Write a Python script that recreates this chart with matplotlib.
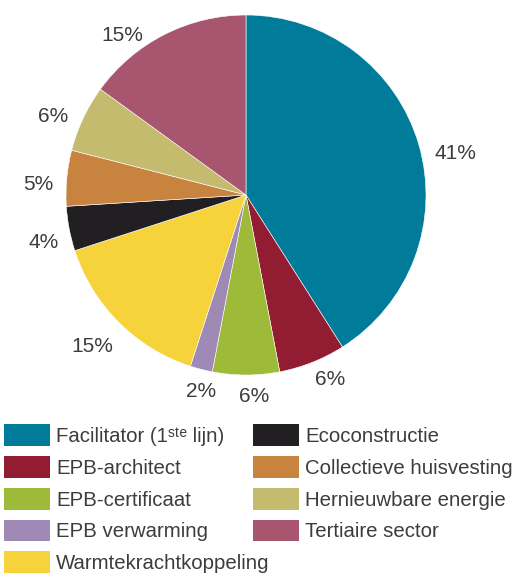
import matplotlib
matplotlib.use("Agg")
import matplotlib.pyplot as plt
import numpy as np

plt.rcParams['font.family'] = ['Liberation Sans', 'DejaVu Sans']

categories = ["Facilitator (1ˢᵗᵉ lijn)", "EPB-architect", "EPB-certificaat",
              "EPB verwarming", "Warmtekrachtkoppeling", "Ecoconstructie",
              "Collectieve huisvesting", "Hernieuwbare energie", "Tertiaire sector"]
values = [41, 6, 6, 2, 15, 4, 5, 6, 15]
pct_labels = ["41%", "6%", "6%", "2%", "15%", "4%", "5%", "6%", "15%"]
colors = ["#007B99", "#921D33", "#9DBB38", "#9E8AB5", "#F6D33A", "#221F22",
          "#C8843F", "#C4BB6F", "#A8566F"]

# label placement (layout): angular shift from wedge middle (deg) and radial distance
label_shift = [-4.5, 3.2, 2.2, 1.3, -0.9, 1.9, 2.0, 2.6, 10.4]
label_dist = [1.189, 1.117, 1.109, 1.112, 1.192, 1.153, 1.155, 1.162, 1.129]

text_color = '#3c3c3c'

fig = plt.figure(figsize=(5.14, 5.75), dpi=100)
ax = fig.add_axes([0.1284, 0.3478, 0.7004, 0.6261])
wedges, _ = ax.pie(values, colors=colors, startangle=90, counterclock=False,
                   wedgeprops=dict(edgecolor='white', linewidth=0.4))
ax.set_xlim(-1, 1)
ax.set_ylim(-1, 1)
ax.set_aspect('equal')

for w, lab, sh, d in zip(wedges, pct_labels, label_shift, label_dist):
    mid = np.deg2rad((w.theta1 + w.theta2) / 2 + sh)
    ax.text(d * np.cos(mid), d * np.sin(mid), lab, ha='center', va='center_baseline',
            fontsize=15, color=text_color, clip_on=False)

common = dict(loc='upper left', frameon=False, fontsize=14.7, handlelength=2.25,
              handleheight=1.27, handletextpad=0.3, labelspacing=0.49,
              borderaxespad=0, borderpad=0, labelcolor=text_color)
leg1 = fig.legend(wedges[:5], categories[:5], bbox_to_anchor=(0.0078, 0.2626), **common)
leg2 = fig.legend(wedges[5:], categories[5:], bbox_to_anchor=(0.4922, 0.2626), **common)
for leg in (leg1, leg2):
    for h in leg.legend_handles:
        h.set_edgecolor('none')

fig.savefig("out.png", dpi=100)
